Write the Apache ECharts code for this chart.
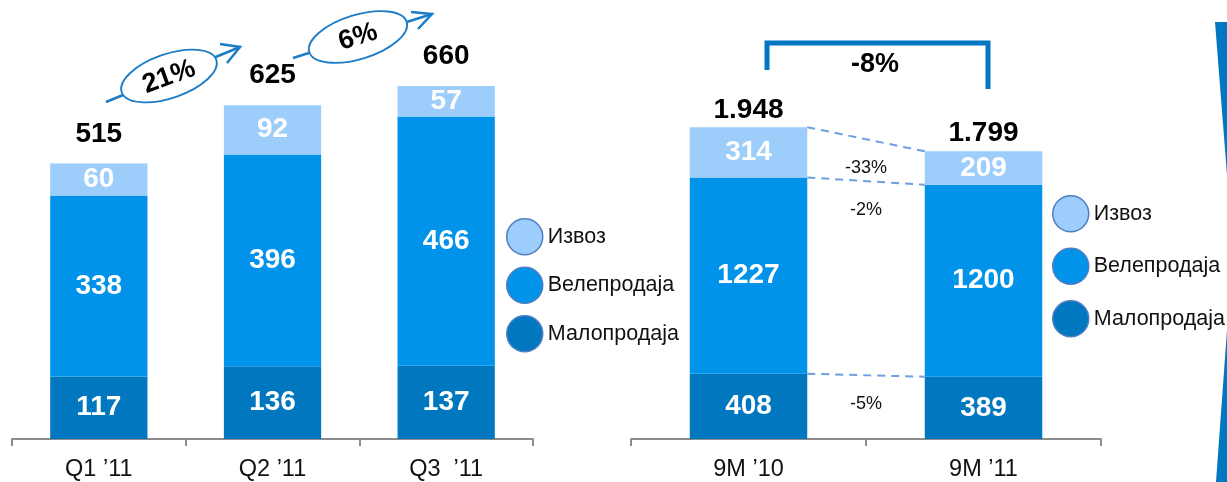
<!DOCTYPE html>
<html>
<head>
<meta charset="utf-8">
<script src="https://cdn.jsdelivr.net/npm/echarts@6/dist/echarts.min.js"></script>
<style>
html,body{margin:0;padding:0;background:#fff;}
#chart{width:1227px;height:482px;}
</style>
</head>
<body>
<div id="chart"></div>
<script>
// ---- data ----
const categoriesQ = ['Q1 ’11', 'Q2 ’11', 'Q3  ’11'];
const retailQ = [117, 136, 137];
const wholesaleQ = [338, 396, 466];
const exportQ = [60, 92, 57];
const totalsQ = [515, 625, 660];
const growthQ = ['21%', '6%'];

const categories9M = ['9M ’10', '9M ’11'];
const retail9M = [408, 389];
const wholesale9M = [1227, 1200];
const export9M = [314, 209];
const totals9M = [1948, 1799];
const change9M = ['-5%', '-2%', '-33%'];   // Малопродаја, Велепродаја, Извоз
const changeTotal9M = '-8%';

const seriesNames = ['Малопродаја', 'Велепродаја', 'Извоз'];
const legendOrder = ['Извоз', 'Велепродаја', 'Малопродаја'];

// ---- styles ----
const FONT = '"Liberation Sans", Arial, sans-serif';
const COLORS = ['#0077BF', '#0093E9', '#9DCDFA'];
const BLUE = '#0077C0';
const ARROW = '#1C7CC5';

const fmtThousands = v => String(v).replace(/\B(?=(\d{3})+(?!\d))/g, '.');

const chart = echarts.init(document.getElementById('chart'), null, {renderer: 'canvas'});

const innerLabel = {
  show: true, position: 'inside', color: '#fff', fontSize: 28, fontWeight: 'bold', fontFamily: FONT
};

function stackSeries(values, idx, axis, stack, barWidth) {
  return {
    type: 'bar', name: seriesNames[idx], stack: stack,
    xAxisIndex: axis, yAxisIndex: axis,
    barWidth: barWidth,
    itemStyle: {color: COLORS[idx]},
    label: innerLabel,
    data: values
  };
}

// boundary tops of each segment for 9M dashed connectors
const boundaries = [];
{
  let c0 = 0, c1 = 0;
  const segs = [retail9M, wholesale9M, export9M];
  segs.forEach((s, i) => {
    c0 += s[0]; c1 += s[1];
    boundaries.push([0, c0, c1, i]);
  });
}

const axisCommon = {
  type: 'category',
  axisLine: {lineStyle: {color: '#8C8C8C', width: 2}},
  axisTick: {show: true, length: 7, lineStyle: {color: '#8C8C8C', width: 2}},
  axisLabel: {color: '#111', fontSize: 23.5, fontFamily: FONT, margin: 19},
  splitLine: {show: false}
};

const legendCommon = {
  orient: 'vertical', itemWidth: 36, itemHeight: 36, padding: 0,
  icon: 'circle', data: legendOrder, selectedMode: false, itemGap: 11,
  textStyle: {fontSize: 21.5, color: '#111', fontFamily: FONT},
  itemStyle: {borderColor: '#4F7FC0', borderWidth: 1.5}
};

const totalLabel = {
  show: true, position: 'top', color: '#000', fontSize: 28, fontWeight: 'bold', fontFamily: FONT,
  textBorderWidth: 0
};

const option = {
  backgroundColor: '#fff',
  animation: false,
  textStyle: {fontFamily: FONT},
  grid: [
    {left: 12, width: 521, top: 11, height: 429},
    {left: 631, width: 470, top: 55, height: 389}
  ],
  xAxis: [
    Object.assign({}, axisCommon, {gridIndex: 0, data: categoriesQ}),
    Object.assign({}, axisCommon, {gridIndex: 1, data: categories9M})
  ],
  yAxis: [
    {gridIndex: 0, type: 'value', min: 0, max: 800, show: false, splitLine: {show: false}},
    {gridIndex: 1, type: 'value', min: 0, max: 2400, show: false, splitLine: {show: false}}
  ],
  legend: [
    Object.assign({}, legendCommon, {left: 506, top: 218, itemGap: 11}),
    Object.assign({}, legendCommon, {left: 1052, top: 195, itemGap: 15})
  ],
  series: [
    stackSeries(retailQ, 0, 0, 'q', '56%'),
    stackSeries(wholesaleQ, 1, 0, 'q', '56%'),
    stackSeries(exportQ, 2, 0, 'q', '56%'),
    {
      type: 'scatter', xAxisIndex: 0, yAxisIndex: 0, symbolSize: 1,
      itemStyle: {color: 'rgba(255,255,255,0)', opacity: 1}, silent: true,
      label: Object.assign({}, totalLabel, {distance: 15}),
      data: totalsQ
    },
    stackSeries(retail9M, 0, 1, 'm', '50%'),
    stackSeries(wholesale9M, 1, 1, 'm', '50%'),
    stackSeries(export9M, 2, 1, 'm', '50%'),
    {
      type: 'scatter', xAxisIndex: 1, yAxisIndex: 1, symbolSize: 1,
      itemStyle: {color: 'rgba(255,255,255,0)', opacity: 1}, silent: true,
      label: Object.assign({}, totalLabel, {distance: 3, formatter: p => fmtThousands(p.value)}),
      data: totals9M
    },
    {
      type: 'custom', xAxisIndex: 1, yAxisIndex: 1, silent: true, z: 10,
      encode: {x: 0, y: [1, 2]},
      data: boundaries,
      renderItem: function (params, api) {
        const a = api.coord([0, api.value(1)]);
        const b = api.coord([1, api.value(2)]);
        const hw = api.size([1, 0])[0] * 0.25;
        const idx = api.value(3);
        return {
          type: 'group',
          children: [
            {type: 'line', shape: {x1: a[0] + hw, y1: a[1], x2: b[0] - hw, y2: b[1]},
              style: {stroke: '#6F9FE0', lineWidth: 2, lineDash: [8, 6]}},
            {type: 'text', x: (a[0] + b[0]) / 2, y: (a[1] + b[1]) / 2 + 29,
              style: {text: change9M[idx], fill: '#111', font: '18px ' + FONT, align: 'center', verticalAlign: 'middle'}}
          ]
        };
      }
    }
  ],
  graphic: [
    // growth arrow 1
    {type: 'polyline', shape: {points: [[106, 102], [240, 47]]}, style: {stroke: ARROW, lineWidth: 2.5, fill: null}},
    {type: 'polyline', shape: {points: [[220, 44], [240, 47], [227, 63]]}, style: {stroke: ARROW, lineWidth: 2.5, fill: null}},
    {type: 'ellipse', x: 169, y: 76, rotation: 0.33, shape: {cx: 0, cy: 0, rx: 50, ry: 22},
      style: {fill: '#fff', stroke: ARROW, lineWidth: 1.8}},
    {type: 'text', x: 169, y: 77, rotation: 0.35,
      style: {text: growthQ[0], fill: '#000', font: 'bold 27px ' + FONT, align: 'center', verticalAlign: 'middle'}},
    // growth arrow 2
    {type: 'polyline', shape: {points: [[293, 58], [432, 14]]}, style: {stroke: ARROW, lineWidth: 2.5, fill: null}},
    {type: 'polyline', shape: {points: [[411, 12], [432, 14], [418, 29]]}, style: {stroke: ARROW, lineWidth: 2.5, fill: null}},
    {type: 'ellipse', x: 358, y: 37, rotation: 0.3, shape: {cx: 0, cy: 0, rx: 51, ry: 22},
      style: {fill: '#fff', stroke: ARROW, lineWidth: 1.8}},
    {type: 'text', x: 358, y: 37, rotation: 0.3,
      style: {text: growthQ[1], fill: '#000', font: 'bold 27px ' + FONT, align: 'center', verticalAlign: 'middle'}},
    // bracket for 9M change
    {type: 'polyline', shape: {points: [[767, 70], [767, 43], [988, 43], [988, 89]]},
      style: {stroke: BLUE, lineWidth: 5, fill: null, lineJoin: 'miter'}},
    {type: 'text', x: 875, y: 65,
      style: {text: changeTotal9M, fill: '#000', font: 'bold 27px ' + FONT, align: 'center', verticalAlign: 'middle'}},
    // decorative stripe on the right edge
    {type: 'polygon', shape: {points: [[1215, 22], [1227, 22], [1227, 175]]}, style: {fill: BLUE}},
    {type: 'polygon', shape: {points: [[1227, 330], [1227, 482], [1216, 482]]}, style: {fill: BLUE}}
  ]
};

chart.setOption(option);
</script>
</body>
</html>
